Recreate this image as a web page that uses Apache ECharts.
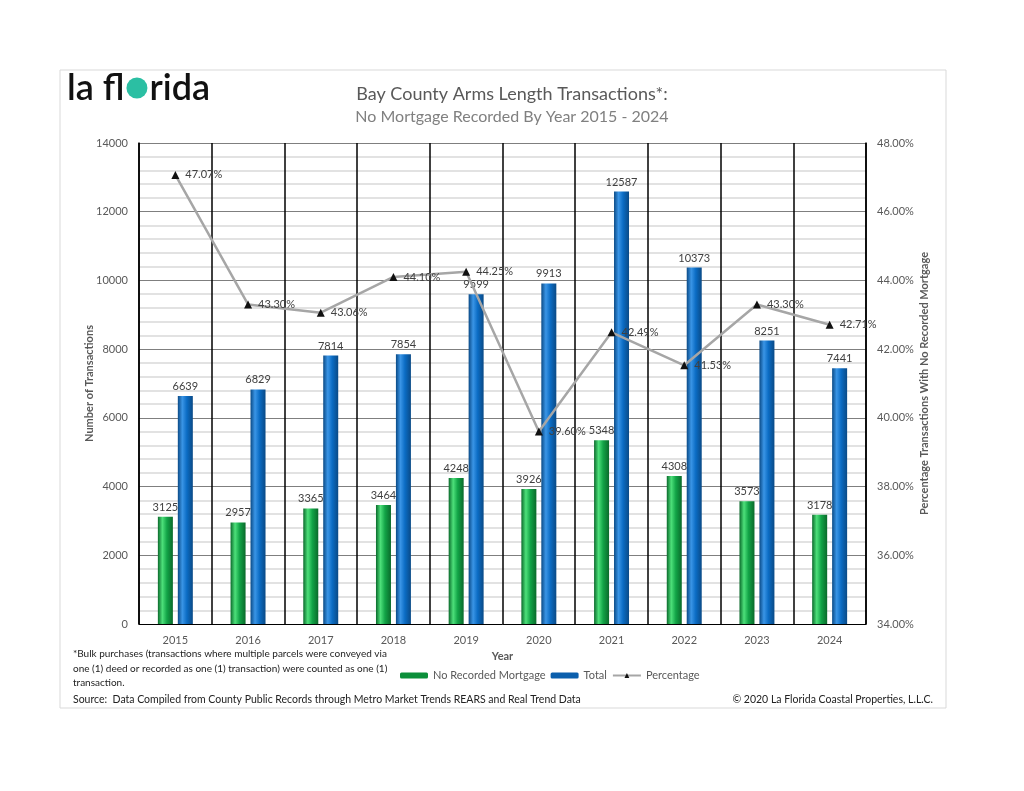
<!DOCTYPE html>
<html><head><meta charset="utf-8">
<script src="https://cdn.jsdelivr.net/npm/echarts@6/dist/echarts.min.js"></script>
<style>html,body{margin:0;padding:0;background:#fff}#c{width:1024px;height:791px}</style>
</head><body><div id="c"></div>
<script>
const years = ['2015','2016','2017','2018','2019','2020','2021','2022','2023','2024'];
const noMortgage = [3125,2957,3365,3464,4248,3926,5348,4308,3573,3178];
const total = [6639,6829,7814,7854,9599,9913,12587,10373,8251,7441];
const percentage = [47.07,43.30,43.06,44.10,44.25,39.60,42.49,41.53,43.30,42.71];
const leftTicks = {min:0,max:14000,interval:2000};
const rightTicks = {min:34,max:48,interval:2};

const FONT = 'Lato, "Open Sans", sans-serif';
const chart = echarts.init(document.getElementById('c'));
function grad(dark, mid, light){
  return new echarts.graphic.LinearGradient(0,0,1,0,[
    {offset:0,color:dark},{offset:0.3,color:light},{offset:0.6,color:mid},{offset:1,color:dark}]);
}
chart.setOption({
  backgroundColor:'#fff',
  textStyle:{fontFamily:FONT},
  graphic:[
    {type:'rect',shape:{x:60,y:70,width:886,height:638},style:{fill:'none',stroke:'#d9d9d9',lineWidth:1}},
    {type:'text',left:67,top:68,style:{
      text:'{a|la fl}{s|}{d|}{s|}{a|rida}',
      rich:{
        a:{font:'600 36px '+FONT,fill:'#111',color:'#111',verticalAlign:'middle',height:40,lineHeight:40},
        s:{width:2,height:2},
        d:{width:21,height:21,backgroundColor:'#2bbfa3',borderRadius:10.5,verticalAlign:'middle'}
      }
    }},
    {type:'text',left:73,top:647,style:{text:'*Bulk purchases (transactions where multiple parcels were conveyed via\none (1) deed or recorded as one (1) transaction) were counted as one (1)\ntransaction.',font:'10px '+FONT,fill:'#222',lineHeight:14.5}},
    {type:'text',left:73,top:694,style:{text:'Source:  Data Compiled from County Public Records through Metro Market Trends REARS and Real Trend Data',font:'10.5px '+FONT,fill:'#222'}},
    {type:'text',right:91,top:694,style:{text:'© 2020 La Florida Coastal Properties, L.L.C.',font:'10.5px '+FONT,fill:'#222'}}
  ],
  title:{
    text:'Bay County Arms Length Transactions*:',
    subtext:'No Mortgage Recorded By Year 2015 - 2024',
    left:507,textAlign:'center',top:80,itemGap:6,
    textStyle:{fontSize:18,fontWeight:'normal',color:'#595959',fontFamily:FONT},
    subtextStyle:{fontSize:16,color:'#808080',fontFamily:FONT}
  },
  legend:{
    left:400,top:670,padding:0,itemWidth:28,itemHeight:6,itemGap:5,
    textStyle:{fontSize:11,color:'#595959'},
    data:[{name:'No Recorded Mortgage',itemStyle:{color:'#0b8f3a'}},{name:'Total',itemStyle:{color:'#0b5fad'}},{name:'Percentage'}]
  },
  grid:{left:139,right:158,top:143,bottom:167},
  xAxis:{
    type:'category',data:years,
    name:'Year',nameLocation:'middle',nameGap:27,
    nameTextStyle:{fontWeight:'bold',fontSize:11,color:'#595959'},
    axisLine:{lineStyle:{color:'#000',width:1}},
    axisTick:{show:false},
    axisLabel:{fontSize:11,color:'#595959',margin:11},
    splitLine:{show:true,lineStyle:{color:'#000',width:1.5}}
  },
  yAxis:[{
    type:'value',min:leftTicks.min,max:leftTicks.max,interval:leftTicks.interval,
    name:'Number of Transactions',nameLocation:'middle',nameGap:44,nameMoveOverlap:false,
    nameTextStyle:{fontWeight:'bold',fontSize:11,color:'#595959'},
    axisLine:{show:true,lineStyle:{color:'#000',width:1.5}},
    axisTick:{show:false},
    axisLabel:{fontSize:11,color:'#595959',margin:11,formatter:v=>String(v)},
    splitLine:{lineStyle:{color:'#7f7f7f',width:1}},
    minorTick:{show:false,splitNumber:5},
    minorSplitLine:{show:true,lineStyle:{color:'#d9d9d9',width:1.5}}
  },{
    type:'value',min:rightTicks.min,max:rightTicks.max,interval:rightTicks.interval,
    name:'Percentage Transactions With No Recorded Mortgage',nameLocation:'middle',nameGap:53,nameRotate:90,nameMoveOverlap:false,
    nameTextStyle:{fontWeight:'bold',fontSize:11,color:'#595959'},
    axisLine:{show:true,lineStyle:{color:'#000',width:1.5}},
    axisTick:{show:false},
    axisLabel:{fontSize:11,color:'#595959',margin:11,formatter:v=>v.toFixed(2)+'%'},
    splitLine:{show:false}
  }],
  series:[{
    name:'No Recorded Mortgage',type:'bar',data:noMortgage,barWidth:15,barGap:'33%',
    itemStyle:{color:grad('#0a6a2b','#12a447','#4de07a')},
    label:{show:true,position:'top',fontSize:11,color:'#404040',distance:4}
  },{
    name:'Total',type:'bar',data:total,barWidth:15,
    itemStyle:{color:grad('#0a4a86','#0b6cc4','#3a95e6')},
    label:{show:true,position:'top',fontSize:11,color:'#404040',distance:4}
  },{
    name:'Percentage',type:'line',yAxisIndex:1,data:percentage,
    symbol:'triangle',symbolSize:8,
    lineStyle:{color:'#a6a6a6',width:2.5},
    itemStyle:{color:'#111',borderWidth:0},
    label:{show:true,position:'right',fontSize:11,color:'#404040',distance:6,formatter:p=>p.value.toFixed(2)+'%'},
    z:5
  }]
});
</script></body></html>
